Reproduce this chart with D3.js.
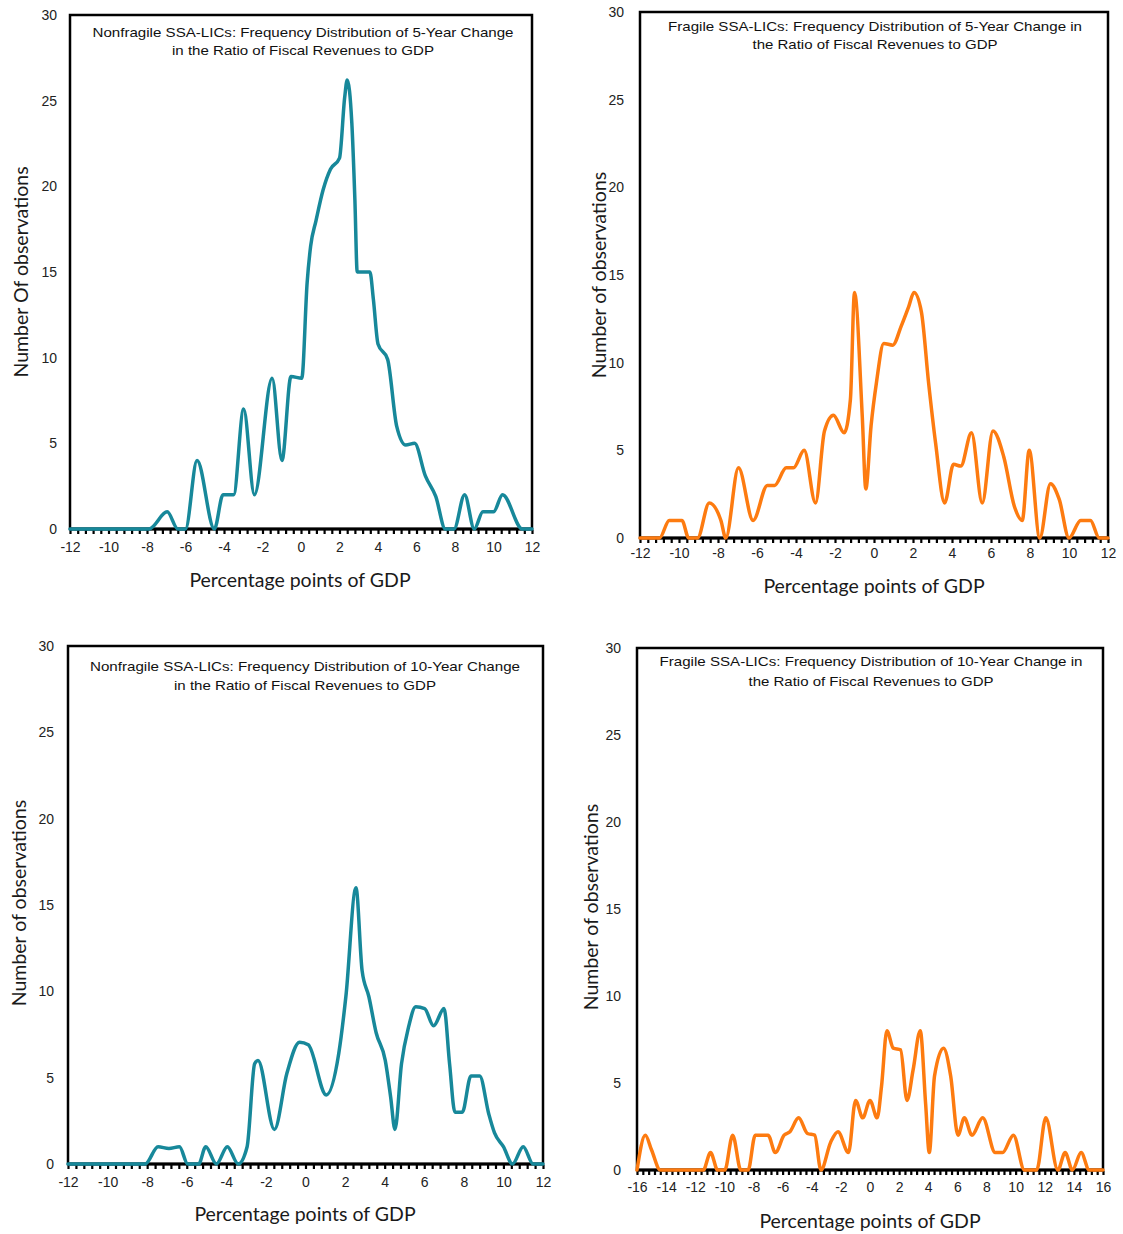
<!DOCTYPE html>
<html>
<head>
<meta charset="utf-8">
<script src="https://cdn.jsdelivr.net/npm/d3@7"></script>
<style>
  body { margin: 0; background: #fff; }
  .tick text { font-family: "Liberation Sans Narrow", "Liberation Sans", Arial, sans-serif; fill: #222; }
  .chart-title { font-family: "Liberation Sans Narrow", "Liberation Sans", Arial, sans-serif; font-size: 13px; fill: #111; }
  .axis-title { font-family: Lato, "Open Sans", sans-serif; font-size: 19.5px; fill: #1a1a1a; }
</style>
</head>
<body>
<div id="chart"></div>
<script>
// Nonfragile, 5-year change
const nf5X = [-12, -7.9, -6.95, -6.4, -6.0, -5.4, -4.5, -4.05, -3.5, -2.98, -2.42, -1.5, -0.99, -0.52, 0.04, 0.32, 0.5, 0.78, 1.15, 1.53, 2.0, 2.27, 2.4, 2.64, 2.8, 2.92, 3.2, 3.58, 3.76, 4.0, 4.5, 4.97, 5.44, 5.9, 6.46, 7.0, 7.5, 7.95, 8.5, 9.0, 9.45, 10.0, 10.47, 11.5, 12]
const nf5Y = [0, 0, 1, 0, 0, 4, 0, 2, 2, 7, 2, 8.8, 4, 8.9, 8.8, 14.4, 16.5, 18, 19.8, 21, 21.65, 25.2, 26.2, 23.7, 19.2, 15, 15, 15, 13.4, 10.8, 9.9, 6, 4.9, 5, 3.1, 1.9, 0, 0, 2, 0, 1, 1, 2, 0, 0]

// Fragile, 5-year change
const fr5X = [-12, -11.0, -10.5, -9.85, -9.5, -9.05, -8.45, -7.85, -7.6, -6.95, -6.2, -5.47, -5.1, -4.5, -4.13, -3.58, -3.0, -2.54, -2.08, -1.53, -1.21, -1.0, -0.6, -0.42, -0.15, 0.13, 0.5, 0.96, 1.4, 1.78, 2.05, 2.43, 2.8, 3.16, 3.62, 4.08, 4.45, 5.0, 5.55, 6.1, 6.65, 7.2, 7.6, 7.96, 8.5, 9.05, 9.5, 10.0, 10.6, 11.1, 11.55, 12]
const fr5Y = [0, 0, 1, 1, 0, 0, 2, 1, 0, 4, 1, 3, 3, 4, 4, 5, 2, 6.1, 7, 6, 7.9, 14, 6.9, 2.8, 6.4, 8.9, 11.1, 11, 12.1, 13.2, 14, 12.9, 8.85, 5.4, 2, 4.2, 4.1, 6, 2, 6.1, 4.65, 1.8, 1, 5, 0, 3.1, 2.2, 0, 1, 1, 0, 0]

// Nonfragile, 10-year change
const nf10X = [-12, -8.1, -7.45, -6.9, -6.37, -5.95, -5.4, -5.04, -4.5, -3.95, -3.4, -2.95, -2.57, -2.4, -1.57, -0.94, -0.3, 0.14, 1.05, 1.68, 2.04, 2.55, 2.86, 3.2, 3.57, 4.03, 4.3, 4.52, 4.85, 5.2, 5.57, 6.02, 6.47, 7.0, 7.28, 7.55, 7.92, 8.36, 8.8, 9.26, 9.55, 10.0, 10.46, 11.0, 11.5, 12]
const nf10Y = [0, 0, 1, 0.9, 1, 0, 0, 1, 0, 1, 0, 1, 5.8, 6, 2, 5.25, 7.05, 6.9, 4, 6.4, 9.7, 16, 11.2, 9.7, 7.6, 6, 3.9, 2, 5.8, 7.9, 9.1, 9, 8, 9, 5.8, 3, 3, 5.1, 5.1, 2.9, 1.8, 1, 0, 1, 0, 0]

// Fragile, 10-year change
const fr10X = [-16, -15.43, -15.0, -14.4, -11.45, -10.95, -10.46, -9.97, -9.43, -8.87, -8.37, -7.88, -7.0, -6.5, -5.9, -5.5, -4.9, -4.3, -3.8, -3.37, -2.7, -2.2, -1.48, -0.99, -0.5, 0.0, 0.49, 0.79, 1.16, 1.6, 2.1, 2.54, 2.96, 3.45, 3.82, 4.07, 4.43, 5.05, 5.54, 6.04, 6.48, 7.0, 7.74, 8.6, 9.1, 9.85, 10.6, 11.45, 12.07, 12.9, 13.4, 13.9, 14.5, 15.05, 16]
const fr10Y = [0, 2, 1.15, 0, 0, 1, 0, 0, 2, 0, 0, 2, 2, 1, 2, 2.2, 3, 2.1, 2, 0, 1.6, 2.2, 1, 4, 3, 4, 3, 4.8, 8, 7, 6.9, 4, 5.75, 8, 3.8, 1, 5.4, 7, 5.4, 2, 3, 2, 3, 1, 1, 2, 0, 0, 3, 0, 1, 0, 1, 0, 0]

const yTicks = [0, 5, 10, 15, 20, 25, 30]

const teal = "#17889a"
const orange = "#fd7b10"

const panels = [
  {
    xs: nf5X, ys: nf5Y, color: teal, domain: [-12, 12],
    box: { left: 70, right: 532, top: 15, bottom: 529 },
    title: ["Nonfragile SSA-LICs: Frequency Distribution of 5-Year Change", "in the Ratio of Fiscal Revenues to GDP"],
    titleWidths: [421, 262], titleX: 303, titleY: [37, 55],
    yTitle: "Number Of observations", yTitleX: 21, yTitleY: 272,
    yLabelGap: 13, xLabelY: 555, xTitleY: 587, xTitleX: 300
  },
  {
    xs: fr5X, ys: fr5Y, color: orange, domain: [-12, 12],
    box: { left: 640, right: 1108, top: 12, bottom: 538 },
    title: ["Fragile SSA-LICs: Frequency Distribution of 5-Year Change in", "the Ratio of Fiscal Revenues to GDP"],
    titleWidths: [414, 245], titleX: 875, titleY: [31, 49],
    yTitle: "Number of observations", yTitleX: 599, yTitleY: 275,
    yLabelGap: 16, xLabelY: 561, xTitleY: 593, xTitleX: 874
  },
  {
    xs: nf10X, ys: nf10Y, color: teal, domain: [-12, 12],
    box: { left: 68, right: 543, top: 646, bottom: 1164 },
    title: ["Nonfragile SSA-LICs: Frequency Distribution of 10-Year Change", "in the Ratio of Fiscal Revenues to GDP"],
    titleWidths: [430, 262], titleX: 305, titleY: [671, 690],
    yTitle: "Number of observations", yTitleX: 19, yTitleY: 903,
    yLabelGap: 14, xLabelY: 1190, xTitleY: 1221, xTitleX: 305
  },
  {
    xs: fr10X, ys: fr10Y, color: orange, domain: [-16, 16],
    box: { left: 637, right: 1103, top: 648, bottom: 1170 },
    title: ["Fragile SSA-LICs: Frequency Distribution of 10-Year Change in", "the Ratio of Fiscal Revenues to GDP"],
    titleWidths: [423, 245], titleX: 871, titleY: [666, 686],
    yTitle: "Number of observations", yTitleX: 591, yTitleY: 907,
    yLabelGap: 16, xLabelY: 1195, xTitleY: 1228, xTitleX: 870
  }
]

const svg = d3.select("#chart").append("svg")
    .attr("width", 1123)
    .attr("height", 1234)

panels.forEach(p => drawPanel(p))

function drawPanel(p) {
  const b = p.box
  const g = svg.append("g")

  const xScale = d3.scaleLinear().domain(p.domain).range([b.left, b.right])
  const yScale = d3.scaleLinear().domain([0, 30]).range([b.bottom, b.top])

  // minor ticks every 0.4, labels every 2 (plain hyphen minus, as in the source)
  const steps = Math.round((p.domain[1] - p.domain[0]) / 0.4)
  const tickVals = d3.range(steps + 1).map(k => p.domain[0] + k * 0.4)
  const xAxis = d3.axisBottom(xScale)
    .tickValues(tickVals)
    .tickSize(5)
    .tickFormat((d, i) => i % 5 === 0 ? String(Math.round(d)) : "")

  const xg = g.append("g")
      .attr("transform", `translate(0,${b.bottom})`)
      .call(xAxis)
  xg.select(".domain").remove()
  xg.selectAll(".tick line").attr("stroke", "#000").attr("stroke-width", 2.2).attr("y1", 1)
  xg.selectAll(".tick text")
      .attr("y", p.xLabelY - b.bottom - 7)
      .attr("dy", "0.32em")
      .style("font-size", "14px")

  const yAxis = d3.axisLeft(yScale).tickValues(yTicks).tickSize(0).tickPadding(p.yLabelGap)
  const yg = g.append("g")
      .attr("transform", `translate(${b.left},0)`)
      .call(yAxis)
  yg.select(".domain").remove()
  yg.selectAll(".tick text").style("font-size", "14px")

  // plot frame
  g.append("rect")
      .attr("x", b.left)
      .attr("y", b.top)
      .attr("width", b.right - b.left)
      .attr("height", b.bottom - b.top)
      .attr("fill", "none")
      .attr("stroke", "#000")
      .attr("stroke-width", 2.5)

  g.append("line")
      .attr("x1", b.left).attr("x2", b.right)
      .attr("y1", b.bottom).attr("y2", b.bottom)
      .attr("stroke", "#000")
      .attr("stroke-width", 3)

  // titles
  p.title.forEach((t, i) => {
    g.append("text")
        .attr("class", "chart-title")
        .attr("x", p.titleX)
        .attr("y", p.titleY[i])
        .attr("text-anchor", "middle")
        .attr("textLength", p.titleWidths[i])
        .attr("lengthAdjust", "spacingAndGlyphs")
        .text(t)
  })

  g.append("text")
      .attr("class", "axis-title")
      .attr("x", p.xTitleX)
      .attr("y", p.xTitleY)
      .attr("text-anchor", "middle")
      .text("Percentage points of GDP")

  g.append("text")
      .attr("class", "axis-title")
      .attr("transform", `translate(${p.yTitleX},${p.yTitleY}) rotate(-90)`)
      .attr("text-anchor", "middle")
      .attr("dy", "0.35em")
      .text(p.yTitle)

  // frequency line
  const points = p.xs.map((x, i) => ({ x, y: p.ys[i] }))
  const lineGen = d3.line()
    .x(d => xScale(d.x))
    .y(d => yScale(d.y))
    .curve(d3.curveMonotoneX)

  g.append("path")
      .attr("d", lineGen(points))
      .attr("fill", "none")
      .attr("stroke", p.color)
      .attr("stroke-width", 3.5)
      .attr("stroke-linejoin", "round")
      .attr("stroke-linecap", "round")
}
</script>
</body>
</html>
